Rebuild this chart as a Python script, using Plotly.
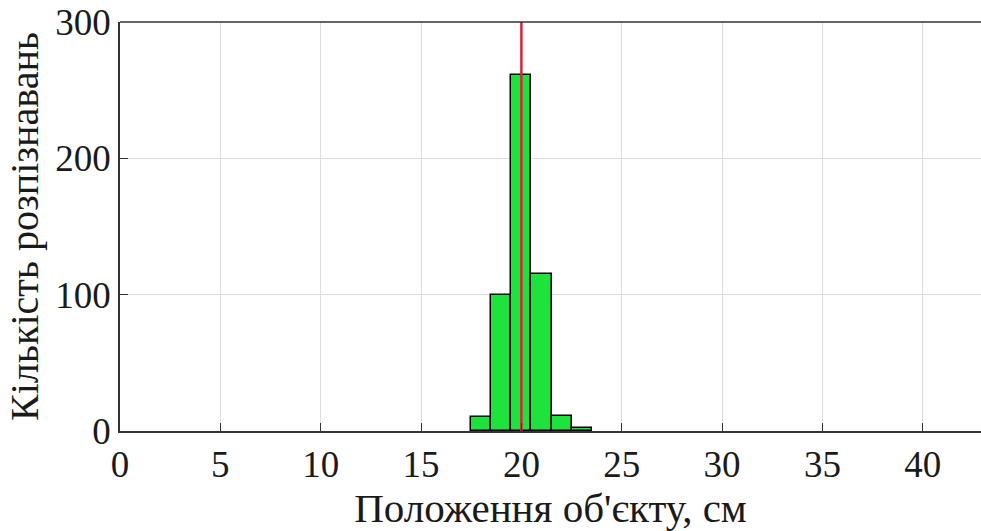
import plotly.graph_objects as go

bin_centers = [18, 19, 20, 21, 22, 23]
counts = [10, 100, 261, 115, 11, 2]
true_position = 20
x_ticks = [0, 5, 10, 15, 20, 25, 30, 35, 40]
y_ticks = [0, 100, 200, 300]

font_family = "Liberation Serif, Times New Roman, serif"

fig = go.Figure()
fig.add_trace(go.Bar(
    x=bin_centers, y=counts, width=1,
    marker=dict(color="#1EE33C", line=dict(color="black", width=1.5)),
    showlegend=False,
))
fig.add_trace(go.Scatter(
    x=[true_position, true_position], y=[0, 300], mode="lines",
    line=dict(color="#E0203C", width=2.5), showlegend=False,
))

fig.update_layout(
    width=981, height=531,
    margin=dict(l=120, r=0, t=22, b=100),
    paper_bgcolor="white", plot_bgcolor="white",
    font=dict(family=font_family, size=37, color="#1a1a1a"),
    bargap=0,
    xaxis=dict(
        range=[0, 42.9], tickvals=x_ticks, ticks="inside", ticklen=8,
        tickcolor="#333", showline=True, linecolor="#333", linewidth=1.5,
        showgrid=True, gridcolor="#DDDDDD", gridwidth=1, zeroline=False,
        title=dict(text="Положення об'єкту, см", font=dict(size=41), standoff=6),
    ),
    yaxis=dict(
        range=[0, 300], tickvals=y_ticks, ticks="inside", ticklen=8,
        tickcolor="#333", showline=True, linecolor="#333", linewidth=1.5,
        showgrid=True, gridcolor="#DDDDDD", gridwidth=1, zeroline=False,
        title=dict(text="Кількість розпізнавань", font=dict(size=40), standoff=4),
    ),
    shapes=[dict(type="line", xref="paper", yref="paper", x0=0, x1=1, y0=1, y1=1,
                 line=dict(color="#333", width=1.5))],
)

fig.write_html("out.html")
